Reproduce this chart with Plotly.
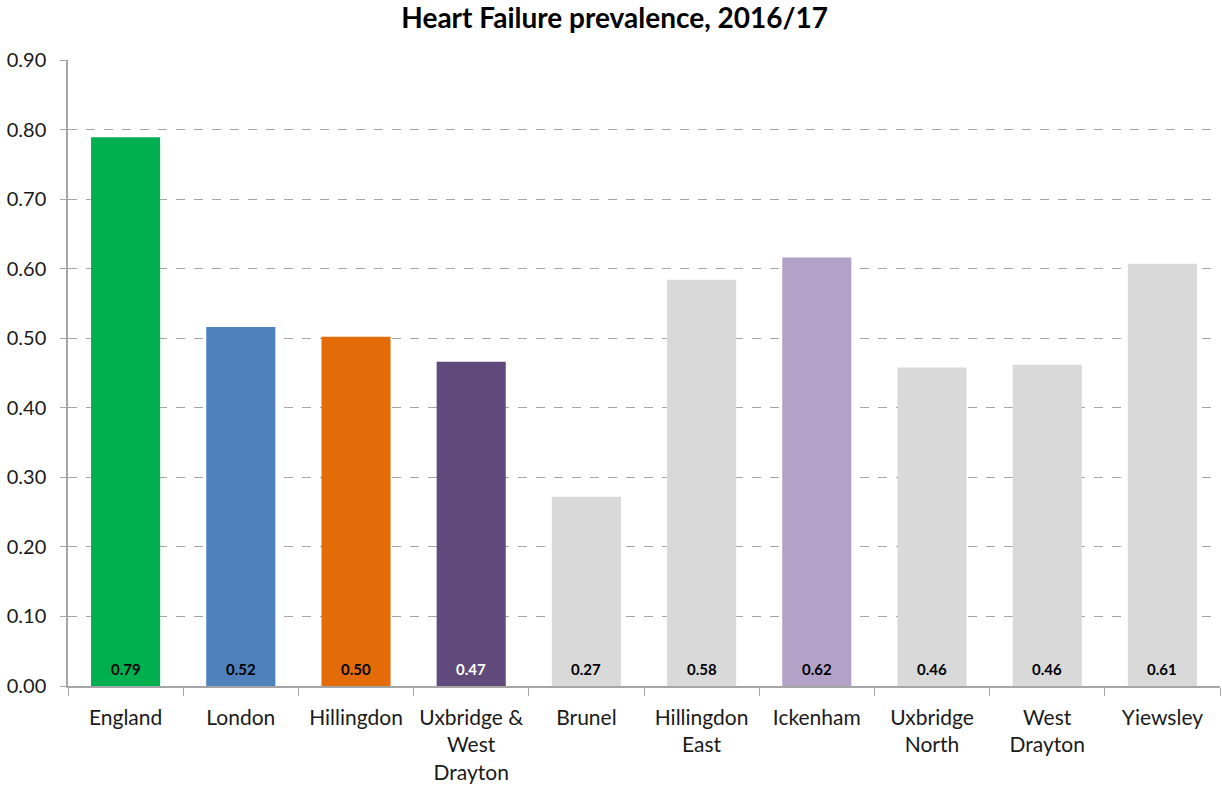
import plotly.graph_objects as go

# Data
areas = ['England', 'London', 'Hillingdon', 'Uxbridge &<br>West<br>Drayton', 'Brunel',
         'Hillingdon<br>East', 'Ickenham', 'Uxbridge<br>North', 'West<br>Drayton', 'Yiewsley']
prevalence = [0.789, 0.516, 0.502, 0.466, 0.272, 0.584, 0.616, 0.458, 0.462, 0.607]
bar_colors = ['#00B050', '#4F81BD', '#E36C09', '#604A7B', '#D9D9D9',
              '#D9D9D9', '#B3A2C7', '#D9D9D9', '#D9D9D9', '#D9D9D9']
label_colors = ['black', 'black', 'black', 'white', 'black',
                'black', 'black', 'black', 'black', 'black']
y_ticks = [0, 0.1, 0.2, 0.3, 0.4, 0.5, 0.6, 0.7, 0.8, 0.9]

FONT = 'Lato, Open Sans, sans-serif'

fig = go.Figure()

fig.add_trace(go.Bar(
    x=areas,
    y=prevalence,
    marker=dict(color=bar_colors, line=dict(width=0)),
    showlegend=False
))

# value labels sit near the base of each bar
for area, v, c in zip(areas, prevalence, label_colors):
    fig.add_annotation(
        x=area, y=0, yshift=17,
        text=f'<b>{v:.2f}</b>',
        showarrow=False,
        font=dict(family=FONT, size=15, color=c)
    )

fig.update_layout(
    width=1222,
    height=789,
    paper_bgcolor='white',
    plot_bgcolor='white',
    margin=dict(l=68, r=2, t=60, b=103),
    bargap=0.4,
    title=dict(
        text='<b>Heart Failure prevalence, 2016/17</b>',
        x=0.503, xanchor='center', y=0.977, yanchor='middle',
        font=dict(family=FONT, size=28, color='black')
    ),
    font=dict(family=FONT, size=21, color='#1a1a1a'),
)

fig.update_yaxes(
    range=[0, 0.9],
    tickvals=y_ticks,
    tickformat='.2f',
    showgrid=True,
    gridcolor='#A6A6A6',
    griddash='dash',
    gridwidth=1,
    showline=True,
    linecolor='#A6A6A6',
    linewidth=1.5,
    ticks='outside',
    ticklen=6,
    tickcolor='#A6A6A6',
    ticklabelstandoff=10,
    automargin=False,
    zeroline=False,
    tickfont=dict(size=20)
)

fig.update_xaxes(
    showline=True,
    linecolor='#A6A6A6',
    linewidth=1.5,
    ticks='outside',
    tickson='boundaries',
    ticklen=8,
    tickcolor='#A6A6A6',
    ticklabelstandoff=12,
    automargin=False,
    showgrid=False,
    tickfont=dict(size=21)
)

# drop the default page margin so the figure fills the window
fig.write_html('out.html', config={'displayModeBar': False},
               post_script="document.body.style.margin='0';")
